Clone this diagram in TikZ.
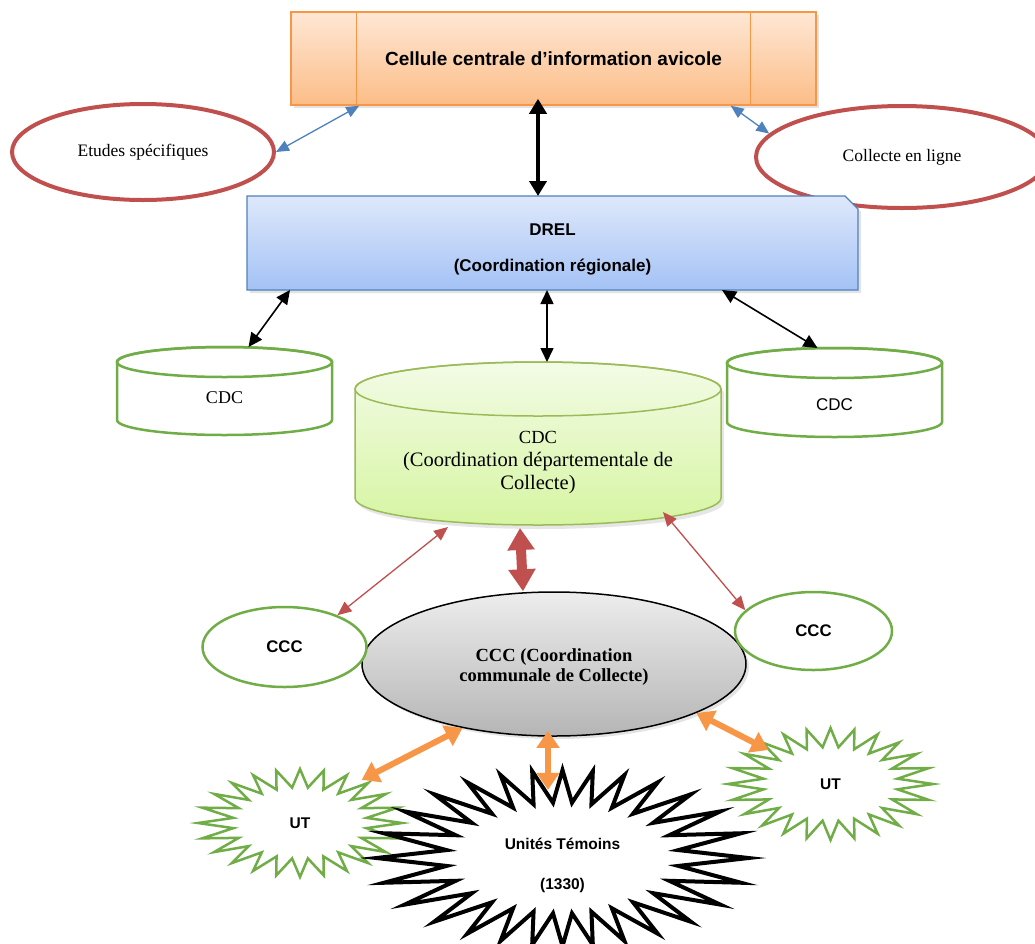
\documentclass[tikz,border=0pt]{standalone}
\usepackage{fontspec}
\setmainfont{Liberation Sans}
\newfontfamily\geofont{Liberation Serif}
\usetikzlibrary{arrows.meta,shapes.geometric,shadows}

\definecolor{orline}{HTML}{F79646}
\definecolor{ortop}{HTML}{FEE7D5}
\definecolor{orbot}{HTML}{FCBD87}
\definecolor{blline}{HTML}{4F81BD}
\definecolor{bltop}{HTML}{DEE8FB}
\definecolor{blbot}{HTML}{A4C2F5}
\definecolor{redline}{HTML}{C0504D}
\definecolor{grline}{HTML}{70AD47}
\definecolor{lgline}{HTML}{9BBB59}
\definecolor{lgtop}{HTML}{F3FBE6}
\definecolor{lgbot}{HTML}{D6F5A2}
\definecolor{gytop}{HTML}{EDEDED}
\definecolor{gybot}{HTML}{B5B5B5}

% spiky ring: style, cx, cy, rx, ry, inner ratio, number of spikes, angular warp (deg)
\newcommand\spikering[8]{%
  \pgfmathsetmacro\spikestep{180/#7}%
  \pgfmathtruncatemacro\lastvertex{2*#7-1}%
  \draw[#1] plot[samples at={0,...,\lastvertex}, variable=\t]
    ({#2+#4*(1-(1-#6)*mod(\t,2))*cos(\t*\spikestep+#8*sin(2*\t*\spikestep))},
     {#3+#5*(1-(1-#6)*mod(\t,2))*sin(\t*\spikestep+#8*sin(2*\t*\spikestep))}) -- cycle;
}

% upright cylinder: body style, rim style, cx, top centre y, bottom centre y, rx, ry
\newcommand\drum[7]{%
  \path[#1] (#3-#6,#4) -- (#3-#6,#5)
    arc[start angle=180, end angle=0, x radius=#6, y radius=#7]
    -- (#3+#6,#4)
    arc[start angle=0, end angle=-180, x radius=#6, y radius=#7] -- cycle;
  \draw[#2] (#3,#4) ellipse[x radius=#6, y radius=#7];
}

\begin{document}
\begin{tikzpicture}[x=1pt, y=-1pt,
  cellbox/.style={rectangle, draw=orline, line width=1.5pt, top color=ortop, bottom color=orbot,
    minimum width=525pt, minimum height=93pt, inner sep=0pt,
    font=\bfseries\fontsize{19}{23}\selectfont,
    drop shadow={opacity=0.22, shadow xshift=3pt, shadow yshift=-3pt}},
  redell/.style={ellipse, draw=redline, line width=4pt, inner sep=0pt,
    font=\geofont\fontsize{17.5}{21}\selectfont},
  drelfill/.style={draw=blline, line width=1.3pt, top color=bltop, bottom color=blbot,
    drop shadow={opacity=0.22, shadow xshift=3pt, shadow yshift=-3pt}},
  frame/.style={rectangle, inner sep=0pt, outer sep=0pt},
  serifl/.style={font=\geofont\fontsize{18}{22}\selectfont, inner sep=0pt},
  greenell/.style={ellipse, draw=grline, line width=2.5pt, fill=white, inner sep=0pt,
    font=\bfseries\fontsize{16.8}{20}\selectfont},
  cccbig/.style={ellipse, draw=black, line width=1.5pt, top color=gytop, bottom color=gybot,
    inner sep=0pt,
    drop shadow={opacity=0.22, shadow xshift=3pt, shadow yshift=-3pt}},
  utframe/.style={ellipse, inner sep=0pt, font=\bfseries\fontsize{15.5}{18}\selectfont},
  greenspike/.style={draw=grline, line width=2.5pt, fill=white},
  blackspike/.style={draw=black, line width=4pt},
  blkthick/.style={black, line width=4.5pt, >={Triangle[width=17pt,length=15pt]}, <->},
  blkthin/.style={black, line width=1.6pt, >={Triangle[width=13pt,length=14pt]}, <->},
  bluearr/.style={blline, line width=1.3pt, >={Triangle[width=11pt,length=13pt]}, <->},
  redthin/.style={redline, line width=1.3pt, >={Triangle[width=12pt,length=14pt]}, <->},
  redthick/.style={redline, line width=10pt, >={Triangle[width=26pt,length=22pt]}, <->},
  orangearr/.style={orline, line width=6pt, >={Triangle[width=22pt,length=17pt]}, <->}
]
\useasboundingbox (0,0) rectangle (1035,943);

% --- central cell ---------------------------------------------------------
\node[cellbox] (cell) at (553.5,58.5) {Cellule centrale d’information avicole};
\draw[orline, line width=1.2pt] ([xshift=66pt]cell.north west) -- ([xshift=66pt]cell.south west);
\draw[orline, line width=1.2pt] ([xshift=-66pt]cell.north east) -- ([xshift=-66pt]cell.south east);

% --- side ellipses -----------------------------------------------------------
\node[redell, minimum width=262pt, minimum height=96pt] (etu) at (143,152) {Etudes spécifiques};
\node[redell, minimum width=292pt, minimum height=102pt] (col) at (902,157) {Collecte en ligne};

% --- regional coordination (box with one snipped corner) ----------------------
\node[frame, minimum width=611pt, minimum height=94pt] (drel) at (552.5,243) {};
\path[drelfill] (drel.south west) -- (drel.north west) -- ([xshift=-13pt]drel.north east)
  -- ([yshift=-13pt]drel.north east) -- (drel.south east) -- cycle;
\node[align=center, inner sep=0pt, font=\bfseries\fontsize{17}{20}\selectfont] (dreltext) at (552.5,249)
  {DREL\\[16pt](Coordination régionale)};

% --- departmental cylinders -----------------------------------------------
\drum{fill=white, draw=grline, line width=2.5pt}{draw=grline, line width=2.5pt}{224.5}{362}{420}{107.5}{15}
\node[frame, minimum width=215pt, minimum height=88pt] (cdcL) at (224.5,391) {};
\node[serifl] (cdcLtext) at (224.5,398) {CDC};

\drum{fill=white, draw=grline, line width=2.5pt}{draw=grline, line width=2.5pt}{834.5}{363}{422}{107.5}{15}
\node[frame, minimum width=215pt, minimum height=89pt] (cdcR) at (834.5,392.5) {};
\node[font=\fontsize{17}{20}\selectfont, inner sep=0pt] (cdcRtext) at (834.5,405) {CDC};

\drum{top color=lgtop, bottom color=lgbot, draw=lgline, line width=1.5pt,
      drop shadow={opacity=0.2, shadow xshift=3pt, shadow yshift=-4pt}}
     {draw=lgline, line width=1.5pt}{538}{389}{498}{183}{27}
\node[frame, minimum width=366pt, minimum height=163pt] (cdcC) at (538,443.5) {};
\node[align=center, inner sep=0pt, font=\geofont\fontsize{20.5}{23}\selectfont] (cdcCtext) at (538,463)
  {{\fontsize{18.5}{23}\selectfont CDC}\\(Coordination départementale de\\Collecte)};

% --- communal coordination ---------------------------------------------------
\node[cccbig, minimum width=384pt, minimum height=144pt] (ccc) at (554,664) {};
\node[align=center, inner sep=0pt, font=\geofont\bfseries\fontsize{18.5}{19.5}\selectfont] (ccctext) at (554,667)
  {CCC (Coordination\\communale de Collecte)};
\node[greenell, minimum width=164pt, minimum height=80pt] (cccL) at (284.5,647) {CCC};
\node[greenell, minimum width=157pt, minimum height=78pt] (cccR) at (813.5,631) {CCC};

% --- sample units ------------------------------------------------------------
\spikering{greenspike}{300}{823}{102}{54}{0.66}{24}{3}
\spikering{greenspike}{830.5}{784}{102.5}{56}{0.66}{24}{3}
\spikering{blackspike}{562.5}{858}{186}{88}{0.63}{28}{8}
\node[utframe, minimum width=204pt, minimum height=108pt] (utL) at (300,823) {UT};
\node[utframe, minimum width=205pt, minimum height=112pt] (utR) at (830.5,784) {UT};
\node[utframe, minimum width=372pt, minimum height=176pt] (ut) at (562.5,858) {};
\node[align=center, inner sep=0pt, font=\bfseries\fontsize{15.5}{40}\selectfont] (uttext) at (562.5,865)
  {Unités Témoins\\(1330)};

% --- connectors --------------------------------------------------------------
\draw[bluearr] ([xshift=69pt]cell.south west) -- (etu.east);
\draw[bluearr] ([xshift=-86pt]cell.south east) -- (col.170);
\draw[blkthick] ([shift={(-15.5pt,7pt)}]cell.south) -- ([xshift=-14.5pt]drel.north);

\draw[blkthin] ([xshift=43pt]drel.south west) -- ([xshift=24pt]cdcL.north);
\draw[blkthin] ([xshift=-5.5pt]drel.south) -- ([xshift=9pt]cdcC.north);
\draw[blkthin] ([xshift=-136pt]drel.south east) -- ([xshift=-17pt]cdcR.north);

\draw[redthin] ([shift={(-90pt,-2pt)}]cdcC.south) -- (cccL.31);
\draw[redthick] ([shift={(-18pt,-3pt)}]cdcC.south) -- ([xshift=-31pt]ccc.north);
\draw[redthin] ([shift={(125pt,13pt)}]cdcC.south) -- (cccR.163);

\draw[orangearr] (ccc.215) -- (utL.35);
\draw[orangearr] ([shift={(-6pt,6pt)}]ccc.south) -- ([shift={(-14.5pt,-20pt)}]ut.north);
\draw[orangearr] (ccc.-19) -- ([shift={(10pt,-6pt)}]utR.151);
\end{tikzpicture}
\end{document}
